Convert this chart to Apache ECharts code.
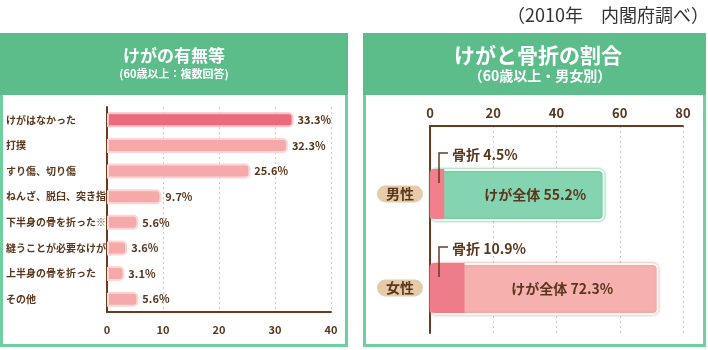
<!DOCTYPE html>
<html><head><meta charset="utf-8">
<script src="https://cdn.jsdelivr.net/npm/echarts@6/dist/echarts.min.js"></script>
<style>html,body{margin:0;padding:0;background:#fff}#c{width:708px;height:350px}</style>
</head><body><div id="c"></div>
<script>
const injuryCats = ['けがはなかった','打撲','すり傷、切り傷','ねんざ、脱臼、突き指','下半身の骨を折った※','縫うことが必要なけが','上半身の骨を折った','その他'];
const injuryVals = [33.3,32.3,25.6,9.7,5.6,3.6,3.1,5.6];
const sexCats = ['男性','女性'];
const totalVals = [55.2,72.3];
const fractureVals = [4.5,10.9];
const leftTitle = 'けがの有無等';
const leftSub = '(60歳以上：複数回答)';
const rightTitle = 'けがと骨折の割合';
const rightSub = '（60歳以上・男女別）';
const sourceText = '（2010年　内閣府調べ）';

const FONT = '"Noto Sans CJK JP", "Noto Sans", sans-serif';
const BROWN = '#5a361c';
const AXIS = '#6b3a1f';
const chart = echarts.init(document.getElementById('c'), null, {renderer:'canvas'});

const panelGraphics = [
  {type:'rect', shape:{x:1.5,y:34.5,width:345,height:311}, style:{fill:'#fff',stroke:'#6fcf9e',lineWidth:3}, z:-10},
  {type:'rect', shape:{x:0,y:33,width:348,height:62}, style:{fill:'#5cbd8b'}, z:-9},
  {type:'rect', shape:{x:364.5,y:34.5,width:340,height:311}, style:{fill:'#fff',stroke:'#6fcf9e',lineWidth:3}, z:-10},
  {type:'rect', shape:{x:363,y:33,width:343,height:62}, style:{fill:'#5cbd8b'}, z:-9},
  {type:'text', x:174, y:56, style:{text:leftTitle, fill:'#fff', font:'bold 17px '+FONT, textAlign:'center', textVerticalAlign:'middle'}},
  {type:'text', x:174, y:74, style:{text:leftSub, fill:'#fff', font:'bold 11px '+FONT, textAlign:'center', textVerticalAlign:'middle'}},
  {type:'text', x:538, y:55, style:{text:rightTitle, fill:'#fff', font:'bold 21px '+FONT, textAlign:'center', textVerticalAlign:'middle'}},
  {type:'text', x:540, y:76, style:{text:rightSub, fill:'#fff', font:'bold 14px '+FONT, textAlign:'center', textVerticalAlign:'middle'}},
  {type:'text', x:709, y:15, style:{text:sourceText, fill:'#333', font:'18px '+FONT, textAlign:'right', textVerticalAlign:'middle'}}
];

const dotted = {show:true, lineStyle:{color:'#c8c8c8', type:[2,3], width:1}};

chart.setOption({
  animation:false,
  grid:[
    {left:107, right:377, top:107, bottom:38},
    {left:430, right:25, top:126, bottom:17},
    {left:430, right:25, top:147, bottom:15}
  ],
  xAxis:[
    {gridIndex:0, type:'value', min:0, max:40, interval:10, position:'bottom',
     axisLine:{show:true, lineStyle:{color:AXIS, width:2}}, axisTick:{show:false},
     axisLabel:{color:BROWN, fontSize:11, fontWeight:'bold', fontFamily:FONT, margin:12},
     splitLine:dotted},
    {gridIndex:1, type:'value', min:0, max:80, interval:20, position:'top',
     axisLine:{show:true, lineStyle:{color:AXIS, width:2}}, axisTick:{show:false},
     axisLabel:{color:BROWN, fontSize:13, fontWeight:'bold', fontFamily:FONT, margin:6},
     splitLine:dotted},
    {gridIndex:2, type:'value', min:0, max:80, show:false, splitLine:{show:false}}
  ],
  yAxis:[
    {gridIndex:0, type:'category', data:injuryCats, inverse:true,
     axisLine:{show:true, lineStyle:{color:AXIS, width:2}}, axisTick:{show:false},
     axisLabel:{color:BROWN, fontSize:10, fontWeight:'bold', fontFamily:FONT, align:'left', margin:101}},
    {gridIndex:1, type:'category', data:sexCats, inverse:true,
     axisLine:{show:true, lineStyle:{color:AXIS, width:2}}, axisTick:{show:false},
     axisLabel:{show:false}},
    {gridIndex:2, type:'category', data:sexCats, inverse:true,
     axisLine:{show:false}, axisTick:{show:false},
     axisLabel:{color:BROWN, fontSize:14, fontWeight:'bold', fontFamily:FONT, margin:7,
       backgroundColor:'#e6cba8', borderRadius:10, padding:[2,9,1,9]}}
  ],
  series:[
    {type:'bar', xAxisIndex:0, yAxisIndex:0, barWidth:15,
     data: injuryVals.map((v,i)=>({value:v, itemStyle: i===0 ? {color:'#ea6b7c', borderColor:'#f8c3c6'} : {color:'#f5aaa9', borderColor:'#fcd6d4'}})),
     itemStyle:{borderWidth:2, borderRadius:[0,4,4,0]},
     label:{show:true, position:'right', distance:4, formatter:'{c}%', color:BROWN, fontSize:11, fontWeight:'bold', fontFamily:FONT}},
    {type:'bar', xAxisIndex:2, yAxisIndex:2, barWidth:52, z:2,
     data: totalVals.map((v,i)=>({value:v, itemStyle: i===0 ? {color:'#85d4b1', shadowColor:'#5fbf8f'} : {color:'#f6b0ae', shadowColor:'#ee9a9c'}})),
     itemStyle:{borderColor:'#f4fbf7', borderWidth:2, borderRadius:5, shadowBlur:3},
     label:{show:true, position:'inside', offset:[18,0], formatter:'けが全体 {c}%', color:BROWN, fontSize:14, fontWeight:'bold', fontFamily:FONT}},
    {type:'bar', xAxisIndex:2, yAxisIndex:2, barWidth:50, barGap:'-100%', z:3,
     data: fractureVals.map((v,i)=>({value:v, itemStyle:{color: i===0 ? '#f27f8b' : '#ef7c89'}})),
     itemStyle:{borderRadius:[4,0,0,4]}}
  ],
  graphic: panelGraphics
});

// fracture annotations, positioned through the axes
const ann = [];
sexCats.forEach((c,i)=>{
  const p = chart.convertToPixel({xAxisIndex:2, yAxisIndex:2}, [0, c]);
  const x = p[0] + 9, yc = p[1];
  ann.push({type:'polyline', shape:{points:[[x, yc-11],[x, yc-41],[x+9, yc-41]]}, style:{stroke:AXIS, lineWidth:1.5, fill:null}, z:20});
  ann.push({type:'text', x:x+13, y:yc-39, style:{text:'骨折 '+fractureVals[i]+'%', fill:BROWN, font:'bold 14px '+FONT, textVerticalAlign:'middle'}, z:20});
});
chart.setOption({graphic: panelGraphics.concat(ann)});
</script></body></html>
